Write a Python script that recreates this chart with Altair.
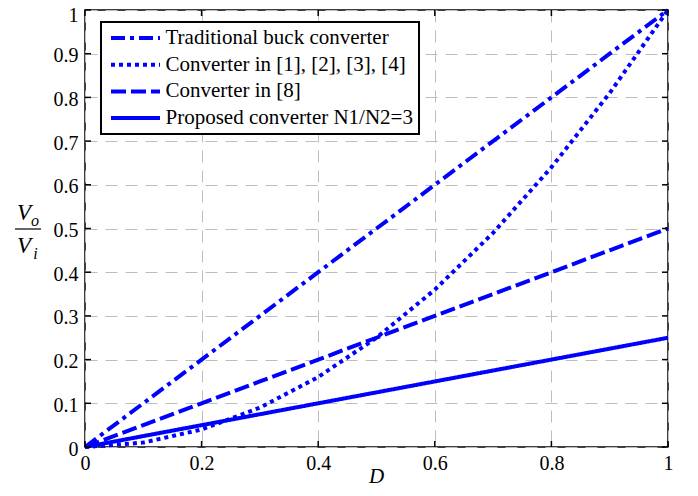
import altair as alt
import pandas as pd

# ---- data ----
duty = [0.0, 0.1, 0.2, 0.3, 0.4, 0.5, 0.6, 0.7, 0.8, 0.9, 1.0]
trad = [0.0, 0.1, 0.2, 0.3, 0.4, 0.5, 0.6, 0.7, 0.8, 0.9, 1.0]
conv1234 = [0.0, 0.01, 0.04, 0.09, 0.16, 0.25, 0.36, 0.49, 0.64, 0.81, 1.0]
conv8 = [0.0, 0.05, 0.10, 0.15, 0.20, 0.25, 0.30, 0.35, 0.40, 0.45, 0.50]
proposed = [0.0, 0.025, 0.05, 0.075, 0.10, 0.125, 0.15, 0.175, 0.20, 0.225, 0.25]

names = [
    "Traditional buck converter",
    "Converter in [1], [2], [3], [4]",
    "Converter in [8]",
    "Proposed converter N1/N2=3",
]
dashes = [[14, 5, 4, 5], [4, 4], [15, 5], [1, 0]]

x_ticks = [0, 0.2, 0.4, 0.6, 0.8, 1]
y_ticks = [0, 0.1, 0.2, 0.3, 0.4, 0.5, 0.6, 0.7, 0.8, 0.9, 1]

rows = []
for name, ys in zip(names, [trad, conv1234, conv8, proposed]):
    for d, v in zip(duty, ys):
        rows.append({"series": name, "D": d, "V": v})
df = pd.DataFrame(rows)

W, H = 583, 437
BLUE = "#0000ff"
FONT = "Liberation Serif"

xs = alt.Scale(domain=[0, 1], nice=False)
ys_ = alt.Scale(domain=[0, 1], nice=False)

lines = alt.Chart(df).mark_line(stroke=BLUE, strokeWidth=4, strokeCap="butt").encode(
    x=alt.X("D:Q", scale=xs,
            axis=alt.Axis(values=x_ticks, format="~g", title=None, labelFlush=False,
                          labelPadding=6)),
    y=alt.Y("V:Q", scale=ys_,
            axis=alt.Axis(values=y_ticks, format="~g", title=None, labelFlush=False,
                          labelPadding=7,
                          labelOffset={"condition": {"test": "datum.value == 1", "value": 5},
                                       "value": 2})),
    strokeDash=alt.StrokeDash(
        "series:N",
        scale=alt.Scale(domain=names, range=dashes),
        legend=alt.Legend(
            title=None, orient="none", legendX=16, legendY=12,
            symbolType="M-0.75,0L5.375,0", symbolSize=256, symbolStrokeWidth=4,
            symbolStrokeColor=BLUE, symbolFillColor="transparent",
            labelFont=FONT, labelFontSize=21, labelColor="black", labelOffset=38,
            labelLimit=400, padding=5.5, rowPadding=4.7,
            strokeColor="black", fillColor="white",
        ),
    ),
)

xt = pd.DataFrame({"t": x_ticks})
yt = pd.DataFrame({"t": y_ticks})
tick_bottom = alt.Chart(xt).mark_rule(color="black", strokeWidth=1.5).encode(
    x=alt.X("t:Q", scale=xs), y=alt.value(H), y2=alt.value(H - 6))
tick_top = alt.Chart(xt).mark_rule(color="black", strokeWidth=1.5).encode(
    x=alt.X("t:Q", scale=xs), y=alt.value(0), y2=alt.value(6))
tick_left = alt.Chart(yt).mark_rule(color="black", strokeWidth=1.5).encode(
    y=alt.Y("t:Q", scale=ys_), x=alt.value(0), x2=alt.value(6))
tick_right = alt.Chart(yt).mark_rule(color="black", strokeWidth=1.5).encode(
    y=alt.Y("t:Q", scale=ys_), x=alt.value(W), x2=alt.value(W - 6))

def label(txt, x, y, size, style="italic"):
    return alt.Chart(pd.DataFrame({"t": [txt]})).mark_text(
        font=FONT, fontSize=size, fontStyle=style, color="black",
        align="center", baseline="middle").encode(
        x=alt.value(x), y=alt.value(y), text="t:N")

d_title = label("D", W / 2, 467, 21)
v_num = label("V", -61, 203, 23)
o_sub = label("o", -50, 211, 16)
v_den = label("V", -61, 236, 23)
i_sub = label("i", -49.5, 244, 16)
frac = alt.Chart(pd.DataFrame({"t": [0]})).mark_rule(color="black", strokeWidth=1.2).encode(
    x=alt.value(-70), x2=alt.value(-44), y=alt.value(219))

chart = alt.layer(
    lines, tick_bottom, tick_top, tick_left, tick_right,
    d_title, v_num, o_sub, v_den, i_sub, frac,
).properties(
    width=W, height=H,
    autosize=alt.AutoSizeParams(type="none"),
    padding={"left": 77, "top": 2, "right": 14, "bottom": 41},
    background="white",
).configure_view(
    stroke="black", strokeWidth=1.5
).configure_axis(
    grid=True, gridColor="#bdbdbd", gridDash=[12, 8], gridWidth=1,
    ticks=False, domain=False,
    labelFont=FONT, labelFontSize=20, labelColor="black",
).configure_legend(
    strokeWidth=2
)

chart.save("out.html", embed_options={"renderer": "svg", "actions": False})
